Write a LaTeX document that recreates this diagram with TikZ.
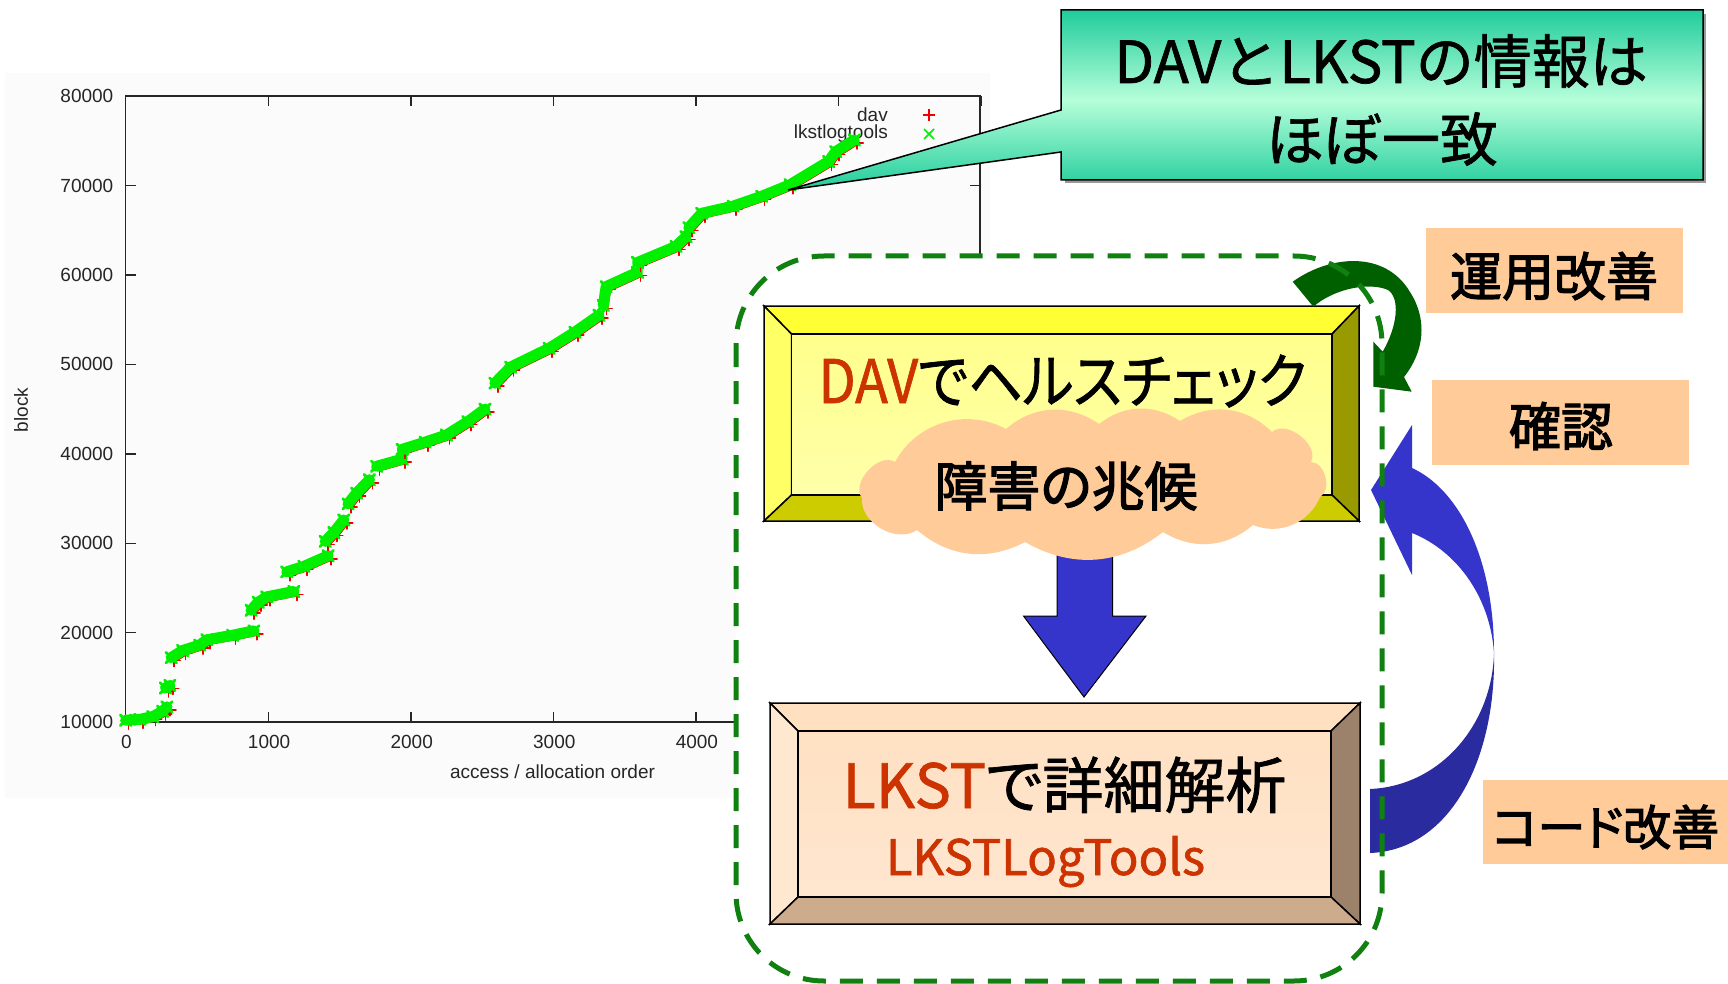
\documentclass[tikz,border=0pt]{standalone}
\usepackage{graphicx}
\usepackage{fontspec}
\setmainfont{Liberation Sans}
\newfontfamily\jpA[FakeBold=1.2]{Noto Sans CJK JP}
\newfontfamily\jpB[FakeBold=1.2,RawFeature=+palt]{Noto Sans CJK JP}
\newfontfamily\jpC[FakeBold=2.4,RawFeature=+palt]{Noto Sans CJK JP}
\definecolor{plotbg}{RGB}{251,251,251}
\definecolor{plotred}{RGB}{240,0,0}
\definecolor{plotgreen}{RGB}{0,240,0}
\definecolor{dashgreen}{RGB}{16,128,16}
\definecolor{davred}{RGB}{204,51,0}
\definecolor{peach}{RGB}{255,204,153}
\definecolor{arrowblue}{RGB}{53,53,204}
\definecolor{arrowblueb}{RGB}{43,43,160}
\definecolor{arrowgreen}{RGB}{0,96,0}
\definecolor{ytop}{RGB}{255,255,51}
\definecolor{yleft}{RGB}{255,255,102}
\definecolor{yright}{RGB}{153,153,0}
\definecolor{ybottom}{RGB}{204,204,0}
\definecolor{yin}{RGB}{255,255,140}
\definecolor{yinb}{RGB}{255,255,170}
\definecolor{ltop}{RGB}{255,224,192}
\definecolor{lleft}{RGB}{255,232,208}
\definecolor{lright}{RGB}{156,130,106}
\definecolor{lbottom}{RGB}{204,172,140}
\definecolor{lin}{RGB}{255,225,195}
\definecolor{linb}{RGB}{255,230,208}
\definecolor{cdark}{RGB}{32,204,155}
\definecolor{clight}{RGB}{182,255,218}
\begin{document}
\begin{tikzpicture}[x=1pt,y=-1pt,
  axisline/.style={draw=black!85, line width=1.4pt},
  ticklab/.style={font=\fontsize{19}{22}\selectfont, text=black!85, inner sep=0pt},
  redrun/.style={draw=plotred, line width=4pt, line join=round, line cap=round,
     transform canvas={xshift=3pt,yshift=-3pt}},
  greenrun/.style={draw=plotgreen, line width=11pt, line join=round, line cap=round},
  bevel/.style={draw=black, line width=1.5pt, line join=miter},
  peachlabel/.style={fill=peach, draw=none},
  jlabel/.style={font=\jpC\fontsize{52}{60}\selectfont, inner sep=0pt},
  dashbox/.style={draw=dashgreen, line width=5pt, dash pattern=on 23pt off 14pt, rounded corners=88pt}
]
\useasboundingbox (0,0) rectangle (1728,984);
\fill[white] (0,0) rectangle (1728,984);
% ---------------- plot ----------------
\fill[plotbg] (5,73) rectangle (990,798);
\draw[axisline] (125.6,96) rectangle (980,722);
\foreach \i/\lab in {0/0,1/1000,2/2000,3/3000,4/4000,5/5000,6/6000}{
  \draw[axisline] ({125.6+142.6*\i},722) -- ++(0,-10);
  \draw[axisline] ({125.6+142.6*\i},96) -- ++(0,10);
  \node[ticklab] (xl\i) at ({126.5+142.6*\i},742) {\lab};
}
\foreach \j/\lab in {0/10000,1/20000,2/30000,3/40000,4/50000,5/60000,6/70000,7/80000}{
  \draw[axisline] (125.6,{722-89.4*\j}) -- ++(10,0);
  \draw[axisline] (980,{722-89.4*\j}) -- ++(-10,0);
  \node[ticklab, anchor=east] (yl\j) at (113.5,{722-89.4*\j}) {\lab};
}
\node[ticklab, rotate=90] (ylab) at (21,410) {block};
\node[ticklab] (xlab) at (552.5,772) {access / allocation order};
% legend
\node[ticklab, anchor=east] (legdav) at (888,115) {dav};
\node[ticklab, anchor=east] (leglkst) at (888,134) {lkstlogtools};
\draw[plotred, line width=1.4pt] (923,115) -- (935,115) (929,109) -- (929,121);
\draw[plotgreen, line width=1.6pt] (924,129) -- (934,139) (924,139) -- (934,129);
% data
\begin{scope}[shift={(125.6,722)}, x=142.6pt, y=89.4pt]
  \foreach \run in {
    {(0,0.02) (0.10,0.03) (0.19,0.06) (0.26,0.12) (0.29,0.17)},
    {(0.28,0.38) (0.31,0.41)},
    {(0.32,0.72) (0.40,0.80) (0.52,0.86) (0.57,0.92) (0.75,0.97) (0.90,1.02)},
    {(0.88,1.25) (0.93,1.34) (0.99,1.40) (1.18,1.46)},
    {(1.13,1.68) (1.25,1.74) (1.42,1.86)},
    {(1.40,2.02) (1.46,2.12) (1.53,2.26)},
    {(1.56,2.44) (1.62,2.56) (1.71,2.71)},
    {(1.76,2.86) (1.94,2.94)},
    {(1.94,3.05) (2.10,3.13) (2.25,3.21) (2.40,3.36) (2.52,3.50)},
    {(2.59,3.79) (2.70,3.97) (2.97,4.18) (3.15,4.36) (3.32,4.55)},
    {(3.35,4.66) (3.37,4.87) (3.59,5.03)},
    {(3.59,5.14) (3.86,5.32) (3.93,5.43)},
    {(3.95,5.53) (4.04,5.69) (4.26,5.77) (4.46,5.88) (4.66,6.01) (4.93,6.27) (4.98,6.38) (5.11,6.51)}}{
    \draw[redrun] plot[mark=+, mark size=6pt, mark options={line width=1.6pt}] coordinates {\run};
    \draw[greenrun] plot[mark=x, mark size=7.5pt, mark options={line width=2.8pt}] coordinates {\run};
  }
\end{scope}
% ---------------- callout ----------------
\fill[black!40] (1065,14) rectangle (1706,183);
\path[draw=black, line width=1.5pt, top color=cdark, bottom color=cdark, middle color=clight]
  (1061,10) -- (1703,10) -- (1703,180) -- (1061,180) -- (1061,152) -- (788,190) -- (1061,110) -- cycle;
\node[font=\jpA\fontsize{58}{66}\selectfont, anchor=base, inner sep=0pt] (cl1) at (1381,83) {DAVとLKSTの情報は};
\node[font=\jpA\fontsize{58}{66}\selectfont, anchor=base, inner sep=0pt] (cl2) at (1382,161) {ほぼ一致};
% ---------------- dashed box (fill) ----------------
\fill[white, rounded corners=88pt] (736,256) rectangle (1382,981);
% ---------------- DAV box ----------------
\filldraw[bevel, fill=ytop] (764,306) -- (1359,306) -- (1332,334) -- (791.5,334) -- cycle;
\filldraw[bevel, fill=yleft] (764,306) -- (791.5,334) -- (791.5,495) -- (764,521) -- cycle;
\filldraw[bevel, fill=yright] (1359,306) -- (1359,521) -- (1332,495) -- (1332,334) -- cycle;
\filldraw[bevel, fill=ybottom] (764,521) -- (1359,521) -- (1332,495) -- (791.5,495) -- cycle;
\path[bevel, top color=yin, middle color=white, bottom color=yinb] (791.5,334) rectangle (1332,495);
\node[font=\jpB\fontsize{60}{70}\selectfont, anchor=base, inner sep=0pt] (davtxt) at (1062.5,403)
  {\scalebox{0.9}[1]{\textcolor{davred}{DAV}でヘルスチェック}};
% down arrow
\filldraw[fill=arrowblue, draw=black, line width=1pt] (1057,530) -- (1112.7,530) -- (1112.7,616) -- (1146,616)
  -- (1084,697) -- (1023.5,616) -- (1057,616) -- cycle;
% cloud
\fill[peach] (862,498) to[bend left=80] (895,462) to[bend left=45] (1006,429) to[bend left=38] (1099,424)
  to[bend left=36] (1180,421) to[bend left=38] (1272,432) to[bend left=80] (1311,462)
  to[bend left=75] (1320,497) to[bend left=45] (1253,525) to[bend left=36] (1163,532)
  to[bend left=34] (1025,542) to[bend left=34] (917,530) to[bend left=65] (862,498) -- cycle;
\node[font=\jpC\fontsize{53}{60}\selectfont, inner sep=0pt] (cloudtxt) at (1066,486) {障害の兆候};
% ---------------- LKST box ----------------
\filldraw[bevel, fill=ltop] (770,703) -- (1360,703) -- (1331,731) -- (798,731) -- cycle;
\filldraw[bevel, fill=lleft] (770,703) -- (798,731) -- (798,897) -- (770,924) -- cycle;
\filldraw[bevel, fill=lright] (1360,703) -- (1360,924) -- (1331,897) -- (1331,731) -- cycle;
\filldraw[bevel, fill=lbottom] (770,924) -- (1360,924) -- (1331,897) -- (798,897) -- cycle;
\path[bevel, top color=lin, middle color=white, bottom color=linb] (798,731) rectangle (1331,897);
\node[font=\jpB\fontsize{61}{70}\selectfont, anchor=base, inner sep=0pt] (lksttxt) at (1064.5,808)
  {\textcolor{davred}{LKST}で詳細解析};
\node[font=\jpB\fontsize{49}{56}\selectfont, text=davred, anchor=base, inner sep=0pt] (lkstlog) at (1045.5,875)
  {LKSTLogTools};
% ---------------- curved arrows ----------------
\fill[arrowgreen] (1292.7,281.7) .. controls (1330,255) and (1385,250) .. (1410,292)
  .. controls (1428,320) and (1424,352) .. (1404,377) -- (1411.7,391.7) -- (1373.3,386.7)
  -- (1373.3,341.7) -- (1382.7,351.7) .. controls (1398,325) and (1400,298) .. (1388,290)
  .. controls (1370,282) and (1335,288) .. (1313.3,306.7) -- cycle;
\fill[arrowblue] (1494,653) .. controls (1494,560) and (1460,490) .. (1412,468) -- (1412,425)
  -- (1371,490) -- (1412,575) -- (1412,533) .. controls (1455,550) and (1490,595) .. (1494,653) -- cycle;
\fill[arrowblueb] (1494,653) .. controls (1496,760) and (1450,850) .. (1370,853) -- (1370,789)
  .. controls (1440,786) and (1492,725) .. (1494,653) -- cycle;
% ---------------- dashed outline ----------------
\draw[dashbox] (736,256) rectangle (1382,981);
% ---------------- labels ----------------
\fill[peachlabel] (1426,228) rectangle (1683,313);
\node[jlabel] (unyo) at (1554,276) {運用改善};
\fill[peachlabel] (1432,380) rectangle (1689,465);
\node[jlabel] (kakunin) at (1561,426) {確認};
\fill[peachlabel] (1483,780) rectangle (1728,864);
\node[jlabel, font=\jpC\fontsize{48}{56}\selectfont, anchor=west] (code) at (1492,827) {コード改善};
\end{tikzpicture}
\end{document}
